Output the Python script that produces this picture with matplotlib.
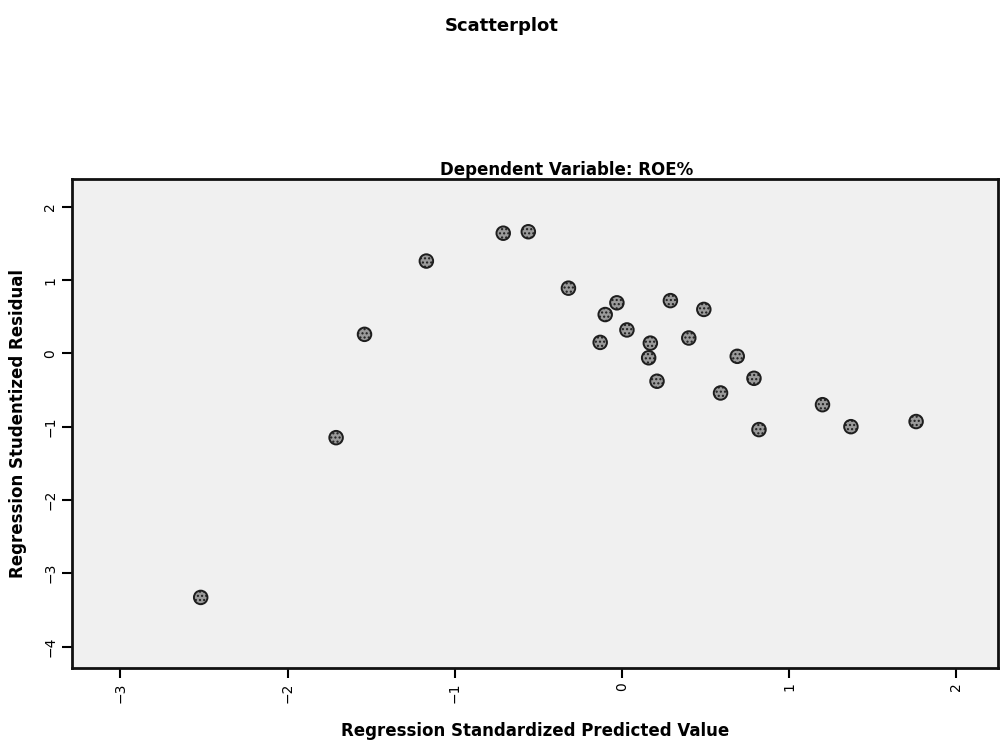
import matplotlib
matplotlib.use("Agg")
import matplotlib.pyplot as plt

# standardized predicted values (x) and studentized residuals (y)
pred = [-2.52, -1.71, -1.54, -1.17, -0.71, -0.56, -0.32, -0.03, -0.10, 0.03,
        -0.13, 0.17, 0.16, 0.21, 0.29, 0.49, 0.40, 0.69, 0.79, 0.59,
        0.82, 1.20, 1.37, 1.76]
resid = [-3.33, -1.15, 0.26, 1.26, 1.64, 1.66, 0.89, 0.69, 0.53, 0.32,
         0.15, 0.14, -0.06, -0.38, 0.72, 0.60, 0.21, -0.04, -0.34, -0.54,
         -1.04, -0.70, -1.00, -0.93]

xticks = [-3, -2, -1, 0, 1, 2]
yticks = [-4, -3, -2, -1, 0, 1, 2]

fig = plt.figure(figsize=(10, 7.52), dpi=100)
ax = fig.add_axes([0.072, 0.112, 0.926, 0.65])
ax.set_facecolor("#f0f0f0")

ax.scatter(pred, resid, s=95, facecolor="#9a9a9a", edgecolor="#1e1e1e",
           linewidth=1.4, hatch="....", zorder=3)

ax.set_xlim(-3.29, 2.25)
ax.set_ylim(-4.29, 2.38)
ax.set_xticks(xticks)
ax.set_yticks(yticks)
ax.tick_params(direction="out", length=7, width=1.5, labelsize=10)
for lab in ax.get_xticklabels():
    lab.set_rotation(90)
for lab in ax.get_yticklabels():
    lab.set_rotation(90)
    lab.set_va("center")

for sp in ax.spines.values():
    sp.set_linewidth(2)
    sp.set_color("#111111")

ax.set_xlabel("Regression Standardized Predicted Value", fontsize=12,
              fontweight="bold", labelpad=14)
ax.set_ylabel("Regression Studentized Residual", fontsize=12,
              fontweight="bold", labelpad=12)

fig.text(0.502, 0.966, "Scatterplot", ha="center", va="center",
         fontsize=13, fontweight="bold")
fig.text(0.567, 0.774, "Dependent Variable: ROE%", ha="center", va="center",
         fontsize=12, fontweight="bold")

fig.savefig("out.png", dpi=100)
